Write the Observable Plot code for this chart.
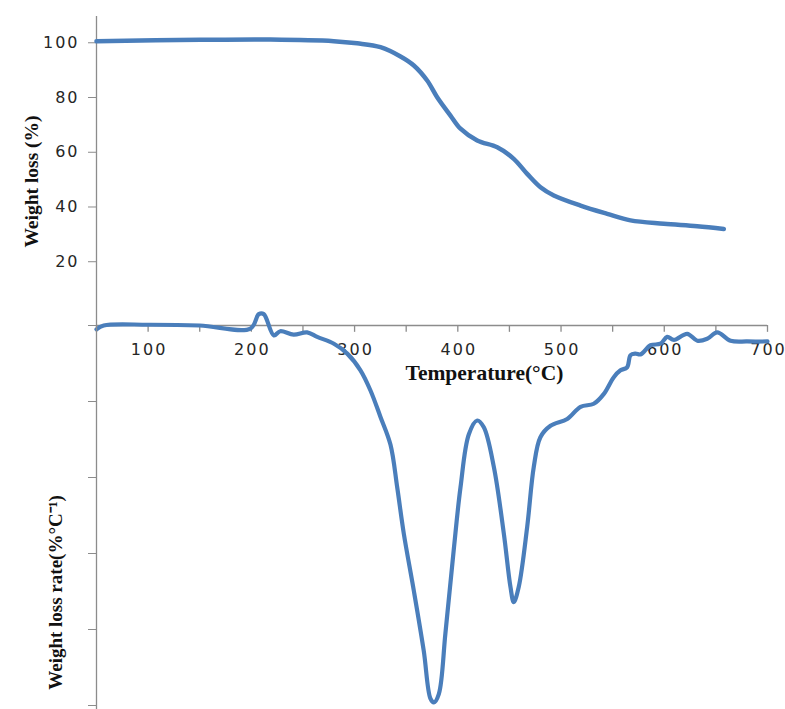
<!DOCTYPE html>
<html>
<head>
<meta charset="utf-8">
<script src="https://cdn.jsdelivr.net/npm/d3@7"></script>
<script src="https://cdn.jsdelivr.net/npm/@observablehq/plot@0.6"></script>
<style>
  html, body { margin: 0; padding: 0; background: #fff; }
  #wrap { position: relative; width: 785px; height: 709px; overflow: hidden; }
  #wrap svg { position: absolute; left: 0; top: 0; }
</style>
</head>
<body>
<div id="wrap"></div>
<script>
// ---- Data ----
// TG curve: temperature (°C) and weight (%)
const tgTemp   = [50, 150.7, 218.6, 279.9, 302.5, 325.1, 344.5, 357.4, 370.3, 380, 392.9, 402.6, 418.8, 438.2, 454.2, 467.2, 480.1, 493, 518.9, 544.7, 567.3, 599.6, 631.9, 657.7];
const tgWeight = [100.6, 101.1, 101.2, 100.6, 99.8, 98.4, 95.0, 91.7, 86.2, 80.1, 73.4, 68.6, 64.3, 61.8, 57.6, 52.1, 47.2, 44.2, 40.5, 37.5, 35.1, 33.9, 33.0, 32.0];

// DTG curve: temperature (°C) and weight loss rate (%/°C, relative units)
const dtgTemp = [50, 57, 100, 150, 199.2, 207.2, 212, 221.8, 228, 241, 254, 263.8, 280, 292.9, 305.7, 315.4, 325, 334.8, 341.3, 347.7, 357.4, 367, 373.5, 376.8, 381.6, 388, 396, 402.6, 410.7, 418.8, 425.2, 434.9, 444.6, 451, 454.2, 459, 467.2, 473.6, 480, 489.8, 506, 518.9, 531.7, 541.5, 551.1, 557.6, 564, 567.3, 572, 577, 586.7, 596.4, 602.8, 609.3, 622.2, 632, 641.6, 651.3, 664.2, 680.3, 700];
const dtgRate = [-0.05, 0.0, 0.01, 0.0, -0.04, 0.15, 0.15, -0.13, -0.075, -0.12, -0.09, -0.15, -0.24, -0.37, -0.59, -0.855, -1.2, -1.57, -2.13, -2.74, -3.49, -4.28, -4.91, -4.96, -4.85, -4.05, -2.96, -2.13, -1.43, -1.25, -1.34, -1.86, -2.74, -3.44, -3.64, -3.44, -2.65, -1.86, -1.47, -1.32, -1.23, -1.07, -1.03, -0.9, -0.68, -0.59, -0.55, -0.39, -0.37, -0.38, -0.26, -0.24, -0.15, -0.19, -0.11, -0.2, -0.175, -0.09, -0.2, -0.21, -0.21];

// Axis ticks and labels
const tgYTicks = [20, 40, 60, 80, 100];
const dtgYTicks = [0, -1, -2, -3, -4, -5];
const xTicks = [50, 100, 150, 200, 250, 300, 350, 400, 450, 500, 550, 600, 650, 700];
const xLabels = [100, 200, 300, 400, 500, 600, 700];
const xTitle = "Temperature(°C)";
const tgTitle = "Weight loss (%)";
const dtgTitle = "Weight loss rate(%°C⁻¹)";

const tgRows = tgTemp.map((t, i) => ({t, w: tgWeight[i]}));
const dtgRows = dtgTemp.map((t, i) => ({t, r: dtgRate[i]}));

const W = 785, H = 709;
const lineColor = "#4a7ebb";
const axisColor = "#8c8c8c";
const textColor = "#262626";

// ---- Upper plot: TG curve + full-height vertical axis ----
const tgPlot = Plot.plot({
  width: W, height: H,
  marginLeft: 96, marginRight: 18, marginTop: 16, marginBottom: 0,
  x: {domain: [50, 700], axis: null},
  y: {domain: [-143.6, 109.6], axis: null},
  style: {fontFamily: "DejaVu Sans", background: "transparent", overflow: "visible"},
  marks: [
    Plot.ruleX([50], {y1: -143.6, y2: 109.6, stroke: axisColor, strokeWidth: 1.3}),
    Plot.axisY(tgYTicks, {anchor: "left", tickSize: 8, tickPadding: 9, fontSize: 16, stroke: axisColor, color: textColor, label: null, tickFormat: d => d}),
    Plot.line(tgRows, {x: "t", y: "w", stroke: lineColor, strokeWidth: 4.5, curve: "catmull-rom"}),
    Plot.text([tgTitle], {frameAnchor: "top-left", dx: 24 - 96, dy: 181 - 16, rotate: -90, textAnchor: "middle", fontFamily: "Liberation Serif", fontWeight: "bold", fontSize: 19.5, fill: "#111", text: d => d})
  ]
});

// ---- Lower plot: DTG curve + x axis ----
const dtgPlot = Plot.plot({
  width: W, height: H,
  marginLeft: 96, marginRight: 18, marginTop: 309.8, marginBottom: 0.2,
  x: {domain: [50, 700], axis: null},
  y: {domain: [-5.05, 0.2], axis: null},
  style: {fontFamily: "DejaVu Sans", background: "transparent", overflow: "visible"},
  marks: [
    Plot.ruleY([0], {x1: 50, x2: 700, stroke: axisColor, strokeWidth: 1.3}),
    Plot.axisY(dtgYTicks, {anchor: "left", tickSize: 8, tickFormat: () => "", stroke: axisColor, label: null}),
    Plot.ruleX(xTicks, {x: d => d, y1: 0, y2: -0.09, stroke: axisColor, strokeWidth: 1.3}),
    Plot.text(xLabels, {x: d => d, y: 0, dy: 24, dx: 1, text: d => String(d), fontSize: 16, fill: textColor, textAnchor: "middle"}),
    Plot.line(dtgRows, {x: "t", y: "r", stroke: lineColor, strokeWidth: 4.2, curve: "catmull-rom"}),
    Plot.text([xTitle], {x: 420, y: 0, dy: 48, dx: 6, text: d => d, fontFamily: "Liberation Serif", fontWeight: "bold", fontSize: 21.5, fill: "#111", textAnchor: "middle"}),
    Plot.text([dtgTitle], {frameAnchor: "top-left", dx: 48 - 96, dy: 592 - 309.8, rotate: -90, textAnchor: "middle", fontFamily: "Liberation Serif", fontWeight: "bold", fontSize: 19, fill: "#111", text: d => d})
  ]
});

// widen the tick numerals like the reference's stretched rendering
d3.select(tgPlot).selectAll("[aria-label='y-axis tick label'] text").style("letter-spacing", "2px");
d3.select(dtgPlot).selectAll("g[aria-label='text']").filter((d, i) => i === 0).selectAll("text").style("letter-spacing", "2px");

const wrap = document.getElementById("wrap");
wrap.appendChild(dtgPlot);
wrap.appendChild(tgPlot);
</script>
</body>
</html>
